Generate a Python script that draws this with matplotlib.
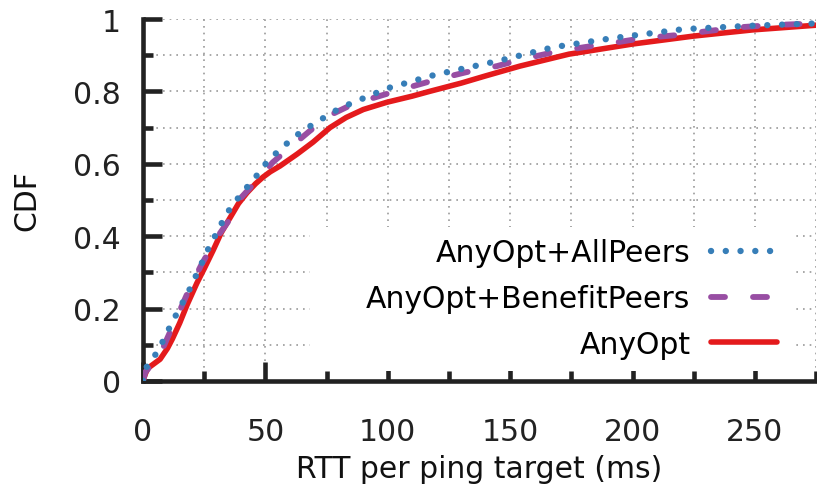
import matplotlib
matplotlib.use("Agg")
import matplotlib.pyplot as plt
from matplotlib.patches import Rectangle
from matplotlib.ticker import MultipleLocator, FormatStrFormatter

# RTT (ms) vs. CDF for each config
allpeers_x = [0, 1, 3, 5.6, 7.3, 9, 11, 14.4, 18.5, 23.3, 27, 30.6, 34, 39.6, 46.4,
              51, 57, 63, 69.6, 80.5, 88.6, 100, 109, 117, 126.6, 145, 167.5,
              191.6, 220.6, 246.7, 275]
allpeers_y = [0, 0.033, 0.055, 0.077, 0.097, 0.124, 0.149, 0.194, 0.245, 0.315,
              0.37, 0.415, 0.461, 0.512, 0.567, 0.608, 0.646, 0.68, 0.71, 0.754,
              0.777, 0.809, 0.826, 0.842, 0.857, 0.884, 0.922, 0.947, 0.972,
              0.981, 0.988]

benefit_x = [0, 1, 3, 5.6, 9.8, 15, 19, 24, 30.6, 35.5, 39.6, 46.4, 53, 61, 68, 76,
             85.8, 98, 109, 120.5, 132, 144.6, 155, 167.5, 180, 192, 204, 217,
             230, 243, 256, 275]
benefit_y = [0, 0.025, 0.04, 0.052, 0.116, 0.194, 0.255, 0.323, 0.40, 0.447, 0.503,
             0.553, 0.604, 0.65, 0.69, 0.733, 0.765, 0.79, 0.812, 0.834, 0.853,
             0.87, 0.889, 0.908, 0.922, 0.934, 0.947, 0.955, 0.966, 0.977, 0.983,
             0.988]

anyopt_x = [0, 1, 2, 4, 7, 10, 12, 15, 18, 22, 25, 28.6, 32, 35.5, 39, 42.5, 46,
            49, 52, 56, 63, 69.5, 76.4, 83, 90, 99.6, 110, 117, 130, 140,
            154, 174, 200, 225, 249, 275]
anyopt_y = [0, 0.02, 0.035, 0.045, 0.06, 0.09, 0.116, 0.16, 0.21, 0.27, 0.31,
            0.36, 0.41, 0.45, 0.49, 0.52, 0.545, 0.563, 0.578, 0.594, 0.627, 0.66,
            0.70, 0.728, 0.75, 0.77, 0.787, 0.80, 0.823, 0.843, 0.87, 0.903,
            0.931, 0.953, 0.97, 0.983]

FS = 21.5
plt.rcParams['font.family'] = ['DejaVu Sans']
plt.rcParams['font.size'] = FS

fig = plt.figure(figsize=(8.17, 4.89), dpi=100)
ax = fig.add_axes([0.175, 0.219, 0.824, 0.740])

l_any, = ax.plot(anyopt_x, anyopt_y, color='#e41a1c', lw=4.0, zorder=3,
                 solid_capstyle='round')
l_ben, = ax.plot(benefit_x, benefit_y, color='#984ea3', lw=4.2, zorder=4,
                 linestyle=(0, (2.4, 4.8)), dash_capstyle='round')
l_all, = ax.plot(allpeers_x, allpeers_y, color='#377eb8', lw=4.6, zorder=5,
                 linestyle=(0, (0.01, 2.3)), dash_capstyle='round')

ax.set_xlim(0, 275)
ax.set_ylim(0, 1)
ax.xaxis.set_major_locator(MultipleLocator(50))
ax.xaxis.set_minor_locator(MultipleLocator(25))
ax.yaxis.set_major_locator(MultipleLocator(0.2))
ax.yaxis.set_minor_locator(MultipleLocator(0.1))
ax.yaxis.set_major_formatter(FormatStrFormatter('%g'))

ax.grid(True, which='both', color='#999999', lw=1.2, linestyle=(0, (1, 3)))
ax.set_axisbelow(True)

# white box behind the key hides the grid
ax.add_patch(Rectangle((0.248, 0.028), 0.72, 0.397, transform=ax.transAxes,
                       facecolor='white', edgecolor='none', zorder=1))

for s in ['top', 'right']:
    ax.spines[s].set_visible(False)
for s in ['left', 'bottom']:
    ax.spines[s].set_linewidth(3.3)
    ax.spines[s].set_color('#222222')

ax.tick_params(which='major', direction='in', length=13.5, width=3.3,
               color='#222222', labelcolor='#222222')
ax.tick_params(which='minor', direction='in', length=7, width=3.3, color='#222222')
ax.tick_params(axis='x', which='major', pad=26)
ax.tick_params(axis='y', which='major', pad=16)

ax.set_xlabel('RTT per ping target (ms)', labelpad=6, color='#111111')
ax.set_ylabel('CDF', labelpad=23, color='#111111')

ax.legend([l_all, l_ben, l_any],
          ['AnyOpt+AllPeers', 'AnyOpt+BenefitPeers', 'AnyOpt'],
          loc='lower right', bbox_to_anchor=(0.942, 0.061), frameon=False,
          markerfirst=False, borderpad=0, borderaxespad=0, handlelength=2.2,
          handletextpad=0.7, labelspacing=0.56, fontsize=FS)

fig.savefig('out.png', dpi=100)
